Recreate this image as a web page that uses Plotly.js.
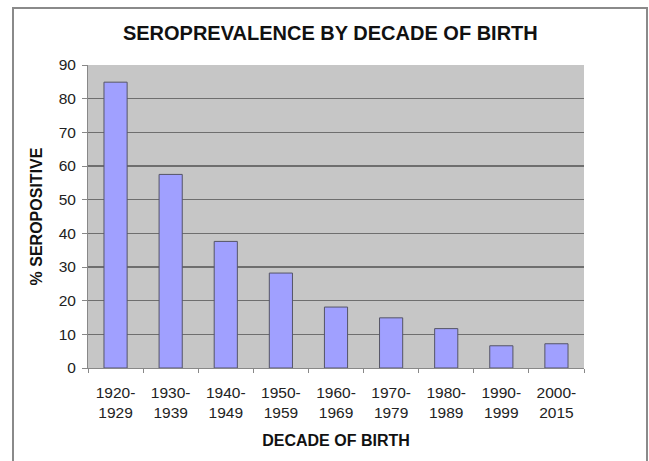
<!DOCTYPE html>
<html>
<head>
<meta charset="utf-8">
<script src="https://cdn.plot.ly/plotly-3.0.1.min.js"></script>
<style>
html, body { margin: 0; padding: 0; background: #ffffff; }
#wrap { position: relative; width: 649px; height: 461px; overflow: hidden; }
#chart { position: absolute; left: 0; top: 0; width: 649px; height: 461px; }
#frame { position: absolute; left: 12px; top: 7px; width: 632px; height: 470px; border: 2px solid #8a8a8a; pointer-events: none; }
</style>
</head>
<body>
<div id="wrap">
  <div id="chart"></div>
  <div id="frame"></div>
</div>
<script>
const categories = ["1920-<br>1929", "1930-<br>1939", "1940-<br>1949", "1950-<br>1959", "1960-<br>1969", "1970-<br>1979", "1980-<br>1989", "1990-<br>1999", "2000-<br>2015"];
const seropositive = [84.9, 57.5, 37.6, 28.2, 18.1, 14.9, 11.7, 6.6, 7.2];
const yTicks = [0, 10, 20, 30, 40, 50, 60, 70, 80, 90];

const trace = {
  type: "bar",
  x: categories,
  y: seropositive,
  marker: { color: "#a0a0ff", line: { color: "#555566", width: 1 } },
  hoverinfo: "none"
};

const layout = {
  width: 649,
  height: 461,
  margin: { l: 88, r: 65, t: 65, b: 93 },
  paper_bgcolor: "#ffffff",
  plot_bgcolor: "#c6c6c6",
  bargap: 0.58,
  showlegend: false,
  font: { family: "Liberation Sans, Arial, sans-serif", color: "#222222", size: 15 },
  title: {
    text: "<b>SEROPREVALENCE BY DECADE OF BIRTH</b>",
    font: { size: 20, color: "#111111" },
    x: 0.509, xanchor: "center",
    y: 0.928, yanchor: "middle"
  },
  xaxis: {
    type: "category",
    tickson: "boundaries",
    ticks: "outside",
    ticklen: 4,
    tickcolor: "#888888",
    ticklabelstandoff: 10,
    showgrid: false,
    showline: true,
    linecolor: "#888888",
    linewidth: 1,
    tickfont: { size: 15.5, color: "#222222" },
    title: { text: "<b>DECADE OF BIRTH</b>", font: { size: 16, color: "#111111" }, standoff: 15 }
  },
  yaxis: {
    range: [0, 90],
    tickvals: yTicks,
    ticks: "outside",
    ticklen: 5,
    tickcolor: "#888888",
    ticklabelstandoff: 3,
    showgrid: true,
    gridcolor: "#6e6e6e",
    gridwidth: 1.6,
    showline: true,
    linecolor: "#888888",
    linewidth: 1,
    zeroline: false,
    tickfont: { size: 15.5, color: "#222222" },
    title: { text: "<b>% SEROPOSITIVE</b>", font: { size: 16, color: "#111111" }, standoff: 12 }
  }
};

Plotly.newPlot("chart", [trace], layout, { displayModeBar: false, staticPlot: true });
</script>
</body>
</html>
